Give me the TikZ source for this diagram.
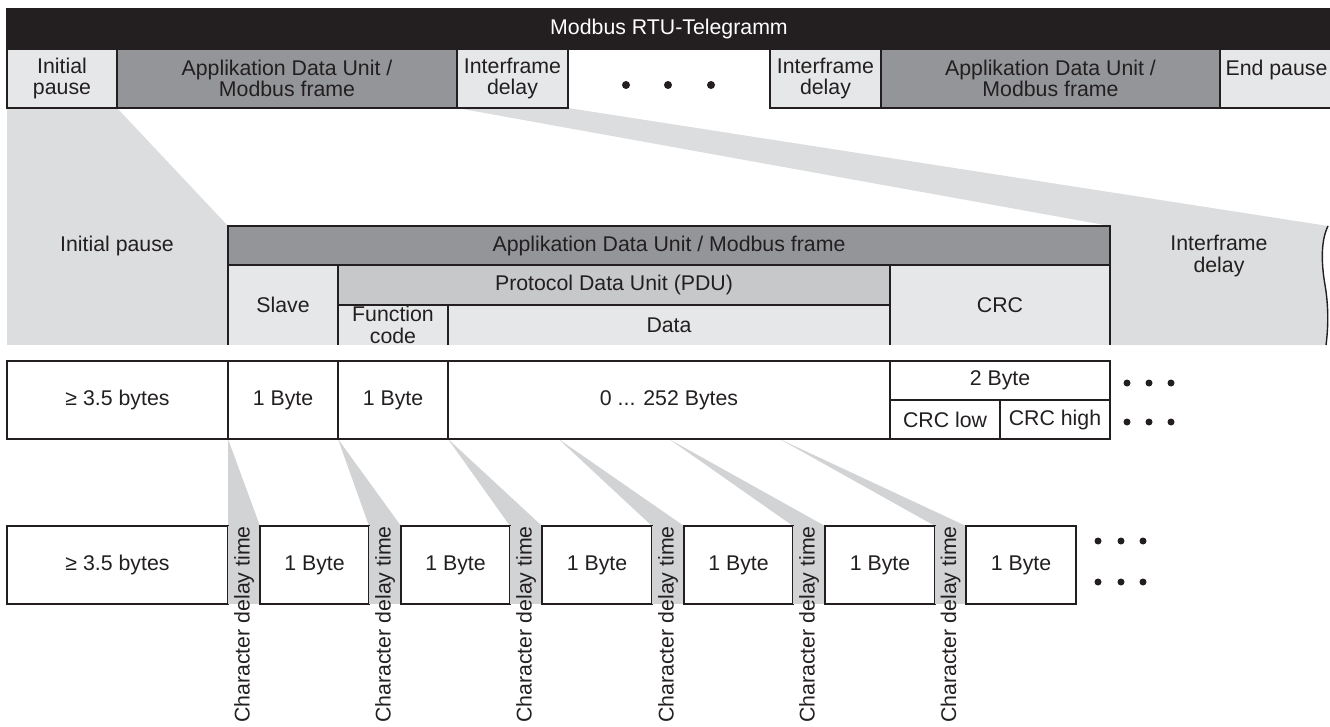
\documentclass[tikz,border=0pt]{standalone}
\usepackage{fontspec}
\setmainfont{Liberation Sans}
\usetikzlibrary{calc,backgrounds}
\definecolor{dk}{HTML}{231F20}
\definecolor{gA}{HTML}{939598}
\definecolor{gB}{HTML}{C7C8CA}
\definecolor{gL}{HTML}{E6E7E8}
\definecolor{gF}{HTML}{DCDDDE}
\definecolor{gS}{HTML}{D1D3D4}
\newcommand{\fs}{\fontsize{21.3}{21.5}\selectfont}
% \bx[style]{name}{x1}{y1}{x2}{y2}{text}
\newcommand{\bx}[7][]{\node[cell,#1,anchor=north west,minimum width={#5-#3},minimum height={#6-#4}] (#2) at (#3,#4) {#7};}
\begin{document}
\begin{tikzpicture}[x=1pt,y=-1pt,
  cell/.style={inner sep=0pt, outer sep=0pt, align=center, text=dk, font=\fs, line width=1.4pt, draw=dk},
  nodraw/.style={draw=none},
  ln/.style={draw=dk, line width=1.4pt},
  lbl/.style={inner sep=0pt, align=center, text=dk, font=\fs},
  dotbig/.style={circle, fill=dk, inner sep=0pt, minimum size=8pt},
  dotsm/.style={circle, fill=dk, inner sep=0pt, minimum size=7pt},
  cdt/.style={inner sep=0pt, text=dk, font=\fs, rotate=90, anchor=east}
]
\useasboundingbox (0,0) rectangle (1330,727);

% ---------- top row ----------
\bx[fill=dk,text=white]{bar}{7}{9}{1331}{49}{Modbus RTU-Telegramm}
\bx[fill=gL]{tip}{7}{49}{117}{108}{Initial\\pause}
\bx[fill=gA]{tadu1}{117}{49}{457}{108}{Applikation Data Unit /\\Modbus frame}
\bx[fill=gL]{tif1}{457}{49}{568}{108}{Interframe\\delay}
\node[dotbig] (td1) at (626,85) {};
\node[dotbig] (td2) at (668,85) {};
\node[dotbig] (td3) at (711,85) {};
\bx[fill=gL]{tif2}{770}{49}{881}{108}{Interframe\\delay}
\bx[fill=gA]{tadu2}{881}{49}{1220}{108}{Applikation Data Unit /\\Modbus frame}
\bx[fill=gL]{tep}{1220}{49}{1333}{108}{End pause\\\mbox{}}

% ---------- middle block ----------
\bx[fill=gF,nodraw]{ip}{7}{226}{228}{345}{}
\node[lbl] (tIP) at (117,246) {Initial pause};
\bx[fill=gL,nodraw]{slave}{228}{265}{338}{345}{Slave}
\bx[fill=gL,nodraw]{fc}{338}{305}{448}{345}{}
\node[lbl] (tFC) at (393,325) {Function\\code};
\bx[fill=gL,nodraw]{data}{448}{305}{890}{345}{Data}
\bx[fill=gL,nodraw]{crc}{890}{265}{1110}{345}{CRC}
\coordinate (ifdTR) at (1328,226);
\coordinate (ifdBR) at (1326,345);
\fill[gF] (crc.north east |- 0,226) -- (ifdTR)
  .. controls (1321,240) and (1321,262) .. (1325,285)
  .. controls (1329,308) and (1328,330) .. (ifdBR) -- (crc.south east) -- cycle;
\draw[ln] (ifdTR) .. controls (1321,240) and (1321,262) .. (1325,285)
  .. controls (1329,308) and (1328,330) .. (ifdBR);
\node[lbl] (tIFD) at (1219,256) {Interframe\\delay};
\bx[fill=gA]{madu}{228}{226}{1110}{265}{Applikation Data Unit / Modbus frame}
\bx[fill=gB]{pdu}{338}{265}{890}{305}{Protocol Data Unit (PDU)}
\draw[ln] (slave.south west) -- (slave.north west);
\draw[ln] (slave.south east) -- (slave.north east);
\draw[ln] (fc.south east) -- (fc.north east);
\draw[ln] (crc.south west) -- (crc.north west);
\draw[ln] (crc.south east) -- (crc.north east);

% ---------- byte row ----------
\bx{r0}{7}{361}{228}{439}{≥ 3.5 bytes}
\bx{r1}{228}{361}{338}{439}{1 Byte}
\bx{r2}{338}{361}{448}{439}{1 Byte}
\bx{r3}{448}{361}{890}{439}{0 ... 252 Bytes}
\bx{r4}{890}{361}{1110}{400}{2 Byte}
\bx{r5}{890}{400}{1000}{439}{CRC low}
\bx{r6}{1000}{400}{1110}{439}{CRC high}
\node[dotsm] (ra1) at (1127,383) {};
\node[dotsm] (ra2) at (1149,383) {};
\node[dotsm] (ra3) at (1171,383) {};
\node[dotsm] (rb1) at (1127,422) {};
\node[dotsm] (rb2) at (1149,422) {};
\node[dotsm] (rb3) at (1171,422) {};

% ---------- character row ----------
\bx{s0}{7}{526}{228}{604}{≥ 3.5 bytes}
\bx[fill=gS,nodraw]{d1}{228}{526}{260}{604}{}
\bx{s1}{260}{526}{369}{604}{1 Byte}
\bx[fill=gS,nodraw]{d2}{369}{526}{401}{604}{}
\bx{s2}{401}{526}{510}{604}{1 Byte}
\bx[fill=gS,nodraw]{d3}{510}{526}{542}{604}{}
\bx{s3}{542}{526}{652}{604}{1 Byte}
\bx[fill=gS,nodraw]{d4}{652}{526}{684}{604}{}
\bx{s4}{684}{526}{793}{604}{1 Byte}
\bx[fill=gS,nodraw]{d5}{793}{526}{825}{604}{}
\bx{s5}{825}{526}{935}{604}{1 Byte}
\bx[fill=gS,nodraw]{d6}{935}{526}{966}{604}{}
\bx{s6}{966}{526}{1076}{604}{1 Byte}
\foreach \i in {1,...,6}{\node[cdt] (c\i) at (d\i.north) {Character delay time};}
\node[dotsm] (sa1) at (1098,541) {};
\node[dotsm] (sa2) at (1121,541) {};
\node[dotsm] (sa3) at (1143,541) {};
\node[dotsm] (sb1) at (1098,582) {};
\node[dotsm] (sb2) at (1121,582) {};
\node[dotsm] (sb3) at (1143,582) {};

% ---------- funnels ----------
\begin{scope}[on background layer]
\fill[gF] (tip.south west) -- (tip.south east) -- (ip.north east) -- (ip.north west) -- cycle;
\fill[gF] (tif1.south west) -- (tif1.south east) -- (ifdTR) -- (madu.north east) -- cycle;
\fill[gS] (r1.south west) -- (d1.north east) -- (d1.north west) -- cycle;
\fill[gS] (r2.south west) -- (d2.north east) -- (d2.north west) -- cycle;
\fill[gS] (r3.south west) -- (d3.north east) -- (d3.north west) -- cycle;
\fill[gS] ($(r3.south west)!0.25!(r3.south east)$) -- (d4.north east) -- (d4.north west) -- cycle;
\fill[gS] ($(r3.south west)!0.5!(r3.south east)$) -- (d5.north east) -- (d5.north west) -- cycle;
\fill[gS] ($(r3.south west)!0.75!(r3.south east)$) -- (d6.north east) -- (d6.north west) -- cycle;
\end{scope}
\end{tikzpicture}
\end{document}
